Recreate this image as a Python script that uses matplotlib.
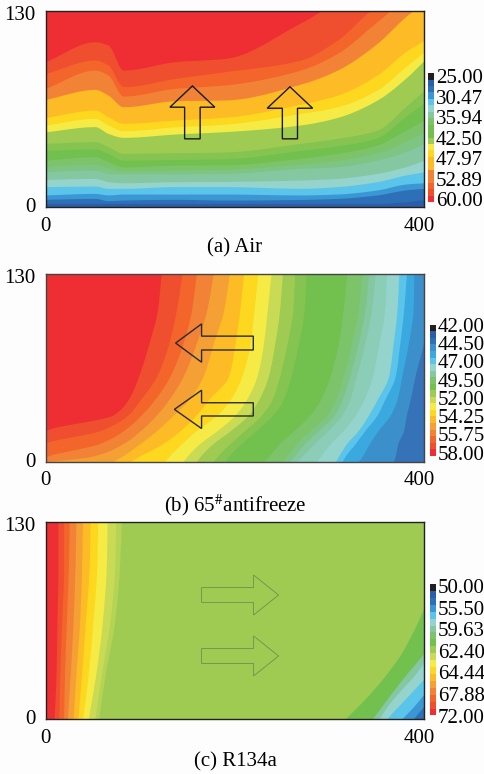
import matplotlib
matplotlib.use("Agg")
import matplotlib.pyplot as plt
import matplotlib.transforms as mt
import numpy as np

plt.rcParams['font.family'] = ['Liberation Serif', 'DejaVu Serif']
plt.rcParams['mathtext.fontset'] = 'stix'

W, H = 485, 774
BG = '#fdfdfd'
RED, R1, R2, R3, R4, OR, YE, LY, YG, GY, GR, G2, TE, LT, SK, B1, B2, B3, B4, BK = (
    '#ee2e33', '#ef4f2e', '#f4652b', '#f28236', '#f5a035', '#fdbb26', '#fdd81f',
    '#f6ea45', '#c9db55', '#9fcb52', '#72c04e', '#7cc36a', '#85c7a0', '#95d3cd',
    '#5bc4ea', '#3a97d3', '#3b8fca', '#2d70b8', '#2a5ea9', '#231f20')
GM = '#85c450'
G3 = '#7ec584'
T2 = '#8ccdb8'
B5 = '#3aa9e0'
B6 = '#3572b7'

# Panel (a): y of each contour boundary at stations along x
a_x = [0, 52, 66, 82, 137, 190, 269, 308, 350, 380, 400]
a_bounds = [
    [2.4, 2.4, 2.4, 2.4, 2.4, 2.4, 2.4, 2.4, 2.4, 3.5, 5.0],
    [5.1, 5.7, 4.2, 4.6, 5.1, 4.6, 5.0, 5.7, 8.0, 11.3, 12.4],
    [8.0, 9.0, 8.0, 8.6, 8.6, 8.6, 8.0, 8.6, 11.3, 15.2, 16.1],
    [13.5, 13.9, 12.4, 12.4, 13.5, 13.5, 12.4, 13.5, 16.8, 21.2, 23.4],
    [18.3, 19.0, 16.8, 16.1, 16.8, 17.0, 17.9, 19.0, 22.3, 26.7, 31.1],
    [23.4, 24.5, 22.3, 22.0, 22.0, 22.3, 25.6, 26.7, 31.1, 36.7, 42.2],
    [27.0, 28.5, 26.0, 24.0, 24.5, 25.0, 28.5, 31.0, 36.0, 43.5, 50.0],
    [31.1, 33.4, 30.0, 26.7, 27.8, 28.0, 32.3, 35.6, 41.1, 51.0, 57.7],
    [37.5, 38.5, 35.5, 31.0, 31.5, 32.0, 37.5, 40.5, 46.0, 60.0, 69.0],
    [42.2, 43.3, 40.0, 35.6, 36.0, 36.5, 42.2, 45.5, 51.0, 66.5, 77.6],
    [49.9, 53.3, 48.8, 46.2, 48.4, 50.0, 54.4, 59.4, 70.9, 85.3, 97.4],
    [54.4, 58.8, 54.4, 50.6, 53.2, 55.0, 62.0, 66.5, 77.6, 93.0, 103.0],
    [59.4, 64.3, 59.9, 55.5, 57.7, 59.6, 68.1, 74.2, 87.5, 103.0, 110.7],
    [71.4, 78.0, 74.2, 66.5, 70.5, 71.0, 81.5, 90.8, 108.5, 126.2, 136.0],
    [78.7, 90.8, 87.5, 73.6, 78.7, 81.0, 90.8, 101.9, 122.9, 138.0, 145.0],
    [88.6, 97.5, 94.1, 79.8, 85.3, 89.8, 97.4, 110.7, 133.0, 140.0, 146.0],
    [96.4, 109.6, 107.4, 90.8, 96.4, 98.6, 122.0, 135.0, 140.0, 145.0, 148.0],
]
a_colors = [B4, B3, B1, SK, LT, TE, G3, G2, GR, GM, GY, LY, YE, OR, R3, R2, R1, RED]

# Panel (b): x of each contour boundary at stations along y
b_y = [130, 105, 82, 59, 43, 32.4, 21.5, 12.7, 3.5, 0]
b_bounds = [
    [122, 118, 109, 98, 87, 71, 0, -10, -12, -14],
    [144, 138, 130, 117, 100, 87, 57, 0, -10, -12],
    [159, 154, 145, 131, 115, 101, 82, 57, 0, -10],
    [177, 170, 159, 145, 130, 117, 100, 82, 47, 0],
    [194, 188, 177, 166, 151, 135, 117, 100, 80, 71],
    [209, 205, 200, 193, 172, 159, 142, 124, 98, 89],
    [224, 220, 216, 207, 195, 181, 159, 144, 130, 126],
    [238, 234, 230, 223, 212, 200, 181, 163, 149, 145],
    [250, 247, 242, 235, 225, 214, 195, 177, 163, 159],
    [263, 261, 255, 247, 239, 228, 210, 195, 181, 177],
    [275, 273, 267, 259, 251, 240, 222, 207, 193, 189],
    [318, 314, 309, 300, 290, 279, 262, 247, 235, 230],
    [334, 330, 323, 314, 306, 297, 279, 265, 254, 249],
    [341, 337, 330, 321, 313, 305, 288, 274, 262, 257],
    [348, 344, 337, 328, 321, 313, 298, 284, 270, 265],
    [360, 358, 352, 345, 336, 327, 314, 301, 290, 286],
    [373, 371, 367, 362, 350, 341, 330, 318, 309, 306],
    [381, 378, 374, 369, 358, 350, 337, 327, 316, 313],
    [389, 388, 383, 376, 371, 364, 351, 342, 334, 330],
    [409, 406, 399, 390, 385, 381, 378, 372, 369, 367],
]
b_colors = [RED, R1, R2, R3, R4, OR, YE, LY, YG, GY, GM, GR, G2, G3, TE, T2, LT, SK, B5, B2, B6]

# Panel (c): x boundaries at the hot inlet side
c_y = [130, 100, 65, 30, 0]
c_bounds = [
    [13, 13, 12, 11, 9],
    [19, 19, 17, 15, 14],
    [25, 24, 22, 20, 19],
    [32, 31, 29, 26, 23],
    [39, 38, 36, 32, 29],
    [47, 46, 42, 38, 34],
    [55, 54, 50, 45, 39],
    [65, 64, 60, 53, 45],
    [74, 73, 68, 59, 52],
    [80, 78, 73, 63, 56],
]
c_colors = [RED, R1, R2, R3, R4, OR, YE, LY, YG, '#b5d354', GY]

# Panel (c): y boundaries in the cold corner
c2_x = [316, 344, 360, 376, 388, 400]
c2_bounds = [
    [0, 18, 30, 44, 58, 74],
    [-15, 0, 13, 26, 35, 44],
    [-25, -8, 8, 20, 28, 38],
    [-30, -15, 0, 11, 19, 27],
    [-40, -30, -15, 0, 8, 17],
    [-50, -40, -25, -12, 0, 9],
]
c2_colors = [GR, TE, LT, SK, B1, B3]

# Colour bars, bottom to top
cbar_a_colors = [RED, R1, R2, R3, R3, OR, OR, YE, LY, GY, GR, GR, G2, TE, LT, SK, B1, B3, B4, BK]
cbar_a_labels = ['60.00', '52.89', '47.97', '42.50', '35.94', '30.47', '25.00']
cbar_b_colors = [RED, R1, R2, R3, R4, OR, YE, LY, YG, GY, GR, G2, TE, LT, SK, B5, B2, B3, B4, BK]
cbar_b_labels = ['58.00', '55.75', '54.25', '52.00', '49.50', '47.00', '44.50', '42.00']
cbar_c_colors = [RED, R1, R2, R3, R4, OR, YE, LY, YG, GY, GR, G2, TE, LT, SK, B1, B3, B4, BK]
cbar_c_labels = ['72.00', '67.88', '64.44', '62.40', '59.63', '55.50', '50.00']

# Flow arrows: tip, head, tail
arrows_a = [
    dict(tip=155, tip_y=80.3, head_y=66.2, half=23.7, shaft=8.2, tail_y=45.2),
    dict(tip=258, tip_y=79.7, head_y=65.5, half=24.0, shaft=8.0, tail_y=45.2),
]
arrows_b = [
    dict(tip=137.3, yc=82.3, head=164.7, half=13.3, shaft=4.8, tail=219.3),
    dict(tip=136.0, yc=36.3, head=164.7, half=13.3, shaft=4.6, tail=219.3),
]
arrows_c = [
    dict(tip=246, yc=82.0, head=219.6, half=13.2, shaft=4.9, tail=164.7),
    dict(tip=246, yc=41.8, head=219.6, half=13.2, shaft=4.9, tail=164.7),
]


def curve(stations, values):
    """Draw a contour boundary as a smooth monotone cubic through the read points."""
    order = np.argsort(stations)
    s = np.asarray(stations, float)[order]
    v = np.asarray(values, float)[order]
    h = np.diff(s)
    d = np.diff(v) / h
    m = np.zeros_like(v)
    m[0], m[-1] = d[0], d[-1]
    for i in range(1, len(s) - 1):
        if d[i - 1] * d[i] > 0:
            w1, w2 = 2 * h[i] + h[i - 1], h[i] + 2 * h[i - 1]
            m[i] = (w1 + w2) / (w1 / d[i - 1] + w2 / d[i])
    grid = np.linspace(s[0], s[-1], 500)
    k = np.clip(np.searchsorted(s, grid) - 1, 0, len(h) - 1)
    t = (grid - s[k]) / h[k]
    val = ((2 * t**3 - 3 * t**2 + 1) * v[k] + (t**3 - 2 * t**2 + t) * h[k] * m[k]
           + (-2 * t**3 + 3 * t**2) * v[k + 1] + (t**3 - t**2) * h[k] * m[k + 1])
    return grid, val


def box(l, t, r, b):
    return [l / W, 1 - b / H, (r - l) / W, (b - t) / H]


fig = plt.figure(figsize=(W / 100, H / 100), dpi=100, facecolor=BG)


def frame(pos, spine='#222222', lw=1.0):
    ax = fig.add_axes(box(*pos))
    ax.set_xlim(0, 400)
    ax.set_ylim(0, 130)
    ax.set_xticks([0, 400])
    ax.set_yticks([0, 130])
    ax.set_xticklabels(['0', '400'], fontsize=15)
    ax.set_yticklabels(['0', '130'], fontsize=15)
    ax.tick_params(length=0, pad=7)
    for s in ax.spines.values():
        s.set_color(spine)
        s.set_linewidth(lw)
        s.set_zorder(6)
    lab = ax.xaxis.get_ticklabels()[1]
    lab.set_transform(lab.get_transform() + mt.ScaledTranslation(-5 / 100, 0, fig.dpi_scale_trans))
    ylabs = ax.yaxis.get_ticklabels()
    ylabs[1].set_transform(ylabs[1].get_transform() + mt.ScaledTranslation(0, -2 / 100, fig.dpi_scale_trans))
    ylabs[0].set_transform(ylabs[0].get_transform() + mt.ScaledTranslation(0, 2 / 100, fig.dpi_scale_trans))
    return ax


def colorbar(pos, colors, labels, first, last):
    ax = fig.add_axes(box(*pos))
    n = len(colors)
    ax.barh(range(n), [1] * n, height=1.02, left=0, color=colors, linewidth=0)
    ax.set_xlim(0, 1)
    ax.set_ylim(-0.5, n - 0.5)
    for s in ax.spines.values():
        s.set_visible(False)
    ax.set_xticks([])
    top, bottom = pos[1], pos[3]
    ticks = []
    for i in range(len(labels)):
        px = last + (first - last) * i / (len(labels) - 1)
        ticks.append(-0.5 + n * (bottom - px) / (bottom - top))
    ax.yaxis.tick_right()
    ax.set_yticks(ticks)
    ax.set_yticklabels(labels, fontsize=15)
    ax.tick_params(length=0, pad=1)


def up_arrow(ax, a, color, lw):
    x, ty, hy, h, s, ey = a['tip'], a['tip_y'], a['head_y'], a['half'], a['shaft'], a['tail_y']
    ax.fill([x, x + h, x + s, x + s, x - s, x - s, x - h],
            [ty, hy, hy, ey, ey, hy, hy], fc='none', ec=color, lw=lw, zorder=5)


def side_arrow(ax, a, color, lw):
    yc, tp, hd, h, s, tl = a['yc'], a['tip'], a['head'], a['half'], a['shaft'], a['tail']
    ax.fill([tp, hd, hd, tl, tl, hd, hd],
            [yc, yc + h, yc + s, yc + s, yc - s, yc - s, yc - h],
            fc='none', ec=color, lw=lw, zorder=5)


# (a)
ax_a = frame((45.6, 11, 424.4, 207))
ax_a.fill_between(a_x, -5, 160, color=a_colors[0], lw=0)
for bd, col in zip(a_bounds, a_colors[1:]):
    gx, gy = curve(a_x, bd)
    ax_a.fill_between(gx, gy, 160, color=col, lw=0)
for a in arrows_a:
    up_arrow(ax_a, a, '#1a1a1a', 1.0)
colorbar((428, 73, 434.5, 202), cbar_a_colors, cbar_a_labels, 76, 199.5)

# (b)
ax_b = frame((45.6, 274.3, 424.4, 461.7), spine='#444444', lw=1.0)
ax_b.fill_betweenx(b_y, -20, 420, color=b_colors[0], lw=0)
for bd, col in zip(b_bounds, b_colors[1:]):
    gy, gx = curve(b_y, bd)
    ax_b.fill_betweenx(gy, gx, 420, color=col, lw=0)
for a in arrows_b:
    side_arrow(ax_b, a, '#2a2a2a', 1.0)
colorbar((429.7, 324.7, 436, 455.7), cbar_b_colors, cbar_b_labels, 325, 452.5)

# (c)
ax_c = frame((45.6, 522.3, 424.4, 719.3))
ax_c.fill_betweenx(c_y, -20, 420, color=c_colors[0], lw=0)
for bd, col in zip(c_bounds, c_colors[1:]):
    gy, gx = curve(c_y, bd)
    ax_c.fill_betweenx(gy, gx, 420, color=col, lw=0)
for bd, col in zip(c2_bounds, c2_colors):
    gx, gy = curve(c2_x, bd)
    ax_c.fill_between(gx, -60, gy, color=col, lw=0)
for a in arrows_c:
    side_arrow(ax_c, a, '#6f8f50', 0.6)
colorbar((430, 584, 436.3, 715.7), cbar_c_colors, cbar_c_labels, 586, 716)

# captions
fig.text(235 / W, 1 - 248 / H, '(a) Air', ha='center', va='center', fontsize=15)
fig.text(235 / W, 1 - 505 / H, '(b) 65$^{\\#}$antifreeze', ha='center', va='center', fontsize=15)
fig.text(235 / W, 1 - 761.5 / H, '(c) R134a', ha='center', va='center', fontsize=15)

fig.savefig('out.png', dpi=100, facecolor=BG)
